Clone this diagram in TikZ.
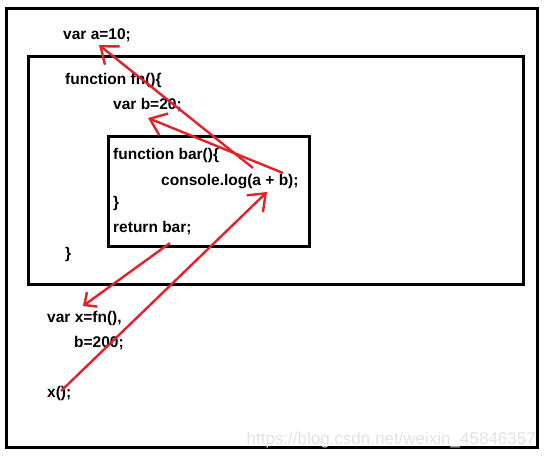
\documentclass[tikz,border=0pt]{standalone}
\usepackage{fontspec}
\setmainfont{Liberation Sans}
\usetikzlibrary{arrows.meta}
\definecolor{ink}  {HTML}{000000}
\definecolor{pen}  {HTML}{E1222A}
\definecolor{wmark}{HTML}{E2E2E2}
\tikzset{
  every node/.style={font=\fontsize{15.5}{18}\selectfont\bfseries},
  % --- nodes
  code/.style  = {anchor=base west, inner sep=0pt, text=ink},
  stamp/.style = {anchor=base east, inner sep=0pt, text=wmark,
                  font=\fontsize{17}{20}\selectfont},
  % --- frames
  frame/.style = {draw=ink, line width=3pt},
  % --- edges
  ref/.style   = {-{Straight Barb[angle=76:19pt]}, line width=2.4pt, draw=pen},
  refs/.style  = {ref, -{Straight Barb[angle=86:13pt]}},
}
\begin{document}
\begin{tikzpicture}[x=1pt,y=-1pt]
  \useasboundingbox (0,0) rectangle (545,456);
  % scopes
  \draw[frame] (6.5,8) rectangle (537.5,447);
  \draw[frame] (28,56) rectangle (523,284);
  \draw[frame] (108.5,136.5) rectangle (309.5,246);
  % code
  \node[code] (vara)   at (63,39)   {var a=10;};
  \node[code] (fnhead) at (65,84)   {function fn()\{};
  \node[code] (varb)   at (113,109) {var b=20;};
  \node[code] (barhd)  at (113,159) {function bar()\{};
  \node[code] (logab)  at (161,185) {console.log(a + b);};
  \node[code] (barend) at (113,207) {\}};
  \node[code] (retbar) at (113,232) {return bar;};
  \node[code] (fnend)  at (65,258)  {\}};
  \node[code] (varx)   at (47,322)  {var x=fn(),};
  \node[code] (varb2)  at (74,347)  {b=200;};
  \node[code] (callx)  at (47,397)  {x();};
  \node[stamp] (wm)    at (536,444) {https://blog.csdn.net/weixin\_45846357};
  % ends of the red strokes
  \coordinate (usea) at (253,168);
  \coordinate (defa) at (99,45);
  \coordinate (useb) at (283,173);
  \coordinate (defb) at (148,118);
  \coordinate (outb) at (170,243);
  \coordinate (getx) at (83,306);
  \coordinate (runx) at (61,391);
  \coordinate (inab) at (267,192);
  \draw[ref]  (usea) -- (defa);
  \draw[ref]  (useb) -- (defb);
  \draw[refs] (outb) -- (getx);
  \draw[ref]  (runx) -- (inab);
\end{tikzpicture}
\end{document}
